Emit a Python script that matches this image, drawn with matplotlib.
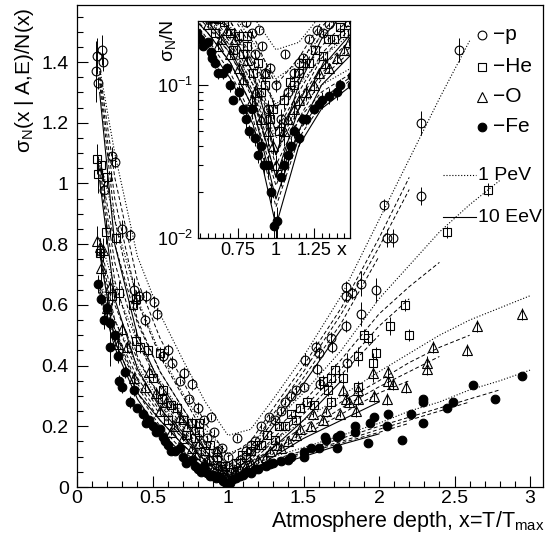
import numpy as np
import matplotlib
matplotlib.use('Agg')
import matplotlib.pyplot as plt
from matplotlib.lines import Line2D
from matplotlib.ticker import MultipleLocator, LogLocator, NullFormatter

plt.rcParams['font.family'] = ['Liberation Sans', 'DejaVu Sans']
plt.rcParams['mathtext.fontset'] = 'custom'
plt.rcParams['mathtext.rm'] = 'Liberation Sans'
plt.rcParams['mathtext.it'] = 'Liberation Sans:italic'
plt.rcParams['mathtext.default'] = 'regular'

n = np.nan

# common depth grid of the fitted curves, x = T/Tmax
x_grid = [0.15, 0.25, 0.4, 0.55, 0.7, 0.85, 1.0, 1.15, 1.3, 1.5, 1.75, 2.0, 2.2, 2.4, 2.6, 2.8, 3.0]

# curves: 1 PeV (dotted), three intermediate energies (dashed), 10 EeV (solid)
p_curves = [
    [1.38, 1.10, 0.76, 0.57, 0.42, 0.28, 0.17, 0.19, 0.29, 0.43, 0.63, 0.88, 1.08, 1.28, 1.47, n, n],
    [1.37, 1.02, 0.68, 0.49, 0.35, 0.21, 0.10, 0.15, 0.26, 0.40, 0.59, 0.82, 1.02, n, n, n, n],
    [1.35, 0.95, 0.61, 0.43, 0.30, 0.17, 0.07, 0.13, 0.24, 0.38, 0.57, 0.79, 0.98, n, n, n, n],
    [1.33, 0.88, 0.55, 0.38, 0.26, 0.14, 0.05, 0.11, 0.22, 0.36, 0.54, 0.76, n, n, n, n, n],
    [1.30, 0.80, 0.50, 0.34, 0.23, 0.12, 0.035, 0.10, 0.20, 0.34, 0.52, n, n, n, n, n, n],
]
he_curves = [
    [1.08, 0.88, 0.62, 0.44, 0.31, 0.19, 0.11, 0.14, 0.21, 0.31, 0.45, 0.62, 0.73, 0.84, 0.93, 1.01, n],
    [1.06, 0.80, 0.54, 0.38, 0.26, 0.15, 0.07, 0.11, 0.18, 0.28, 0.42, 0.57, 0.66, 0.74, n, n, n],
    [1.05, 0.74, 0.48, 0.33, 0.22, 0.12, 0.05, 0.09, 0.16, 0.26, 0.39, 0.53, 0.62, n, n, n, n],
    [1.03, 0.68, 0.43, 0.29, 0.19, 0.10, 0.035, 0.08, 0.15, 0.24, 0.37, 0.50, n, n, n, n, n],
    [1.01, 0.62, 0.39, 0.26, 0.17, 0.085, 0.025, 0.07, 0.13, 0.22, 0.35, n, n, n, n, n, n],
]
o_curves = [
    [0.82, 0.66, 0.48, 0.35, 0.24, 0.14, 0.075, 0.10, 0.15, 0.22, 0.30, 0.38, 0.44, 0.50, 0.55, 0.59, 0.63],
    [0.80, 0.60, 0.42, 0.30, 0.20, 0.11, 0.05, 0.08, 0.13, 0.20, 0.28, 0.35, 0.41, 0.46, 0.50, n, n],
    [0.79, 0.55, 0.38, 0.27, 0.18, 0.09, 0.035, 0.07, 0.12, 0.18, 0.26, 0.33, 0.38, 0.43, n, n, n],
    [0.78, 0.51, 0.34, 0.24, 0.16, 0.08, 0.025, 0.06, 0.11, 0.17, 0.24, 0.31, 0.35, n, n, n, n],
    [0.77, 0.48, 0.31, 0.22, 0.14, 0.07, 0.018, 0.05, 0.10, 0.16, 0.22, 0.28, n, n, n, n, n],
]
fe_curves = [
    [0.68, 0.55, 0.40, 0.28, 0.18, 0.10, 0.045, 0.07, 0.10, 0.13, 0.17, 0.21, 0.25, 0.28, 0.32, 0.35, 0.385],
    [0.67, 0.52, 0.36, 0.25, 0.16, 0.085, 0.03, 0.06, 0.09, 0.12, 0.16, 0.20, 0.23, 0.26, 0.29, 0.32, n],
    [0.66, 0.50, 0.33, 0.22, 0.14, 0.07, 0.022, 0.05, 0.08, 0.115, 0.15, 0.19, 0.22, 0.25, 0.28, n, n],
    [0.65, 0.48, 0.31, 0.20, 0.12, 0.06, 0.016, 0.045, 0.075, 0.11, 0.145, 0.18, 0.21, n, n, n, n],
    [0.64, 0.46, 0.29, 0.18, 0.11, 0.055, 0.012, 0.04, 0.07, 0.10, 0.14, 0.175, n, n, n, n, n],
]

# simulated points
p_x = [0.13, 0.165, 0.17, 0.125, 0.14, 0.23, 0.25, 0.18, 0.30, 0.35, 0.38, 0.41, 0.46, 0.51, 0.53,
       0.57, 0.63, 0.71, 0.76, 0.80, 0.89, 0.91, 1.06, 0.96, 1.00, 0.95, 1.03, 1.08, 1.12, 1.18,
       1.27, 1.31, 1.38, 1.45, 1.50, 1.51, 1.58, 1.60, 1.68, 1.59, 1.69, 1.79, 1.78, 1.88, 1.61,
       1.78, 1.82, 1.78, 1.88, 1.98, 2.03, 2.05, 2.09, 2.28, 2.28, 2.53,
       0.45, 0.60, 0.68, 0.74, 0.84, 0.86, 0.93, 1.15, 1.22, 1.35, 1.42]
p_y = [1.42, 1.44, 1.40, 1.37, 1.33, 1.09, 1.07, 0.98, 0.85, 0.83, 0.65, 0.63, 0.63, 0.61, 0.57,
       0.43, 0.41, 0.375, 0.34, 0.26, 0.23, 0.18, 0.16, 0.13, 0.10, 0.07, 0.06, 0.09, 0.12, 0.15,
       0.23, 0.22, 0.28, 0.32, 0.33, 0.42, 0.46, 0.44, 0.49, 0.39, 0.46, 0.41, 0.53, 0.57, 0.34,
       0.66, 0.64, 0.63, 0.67, 0.65, 0.93, 0.82, 0.82, 1.20, 0.96, 1.44,
       0.55, 0.45, 0.35, 0.29, 0.22, 0.16, 0.12, 0.14, 0.20, 0.25, 0.30]
p_err = [0.06, 0.05, 0.03, 0.10, 0.02, 0.03, 0.02, 0.03, 0.03, 0.02, 0.04, 0.02, 0.02, 0.02, 0.02,
         0.02, 0.02, 0.02, 0.02, 0.02, 0.01, 0.01, 0.01, 0.01, 0.01, 0.01, 0.01, 0.01, 0.01, 0.01,
         0.01, 0.01, 0.01, 0.01, 0.01, 0.02, 0.02, 0.02, 0.02, 0.02, 0.02, 0.03, 0.02, 0.04, 0.02,
         0.02, 0.02, 0.02, 0.04, 0.04, 0.02, 0.03, 0.03, 0.04, 0.03, 0.04,
         0.02, 0.02, 0.01, 0.01, 0.01, 0.01, 0.01, 0.01, 0.01, 0.01, 0.01]

he_x = [0.13, 0.16, 0.14, 0.20, 0.19, 0.26, 0.15, 0.28, 0.23, 0.39, 0.37, 0.39, 0.42, 0.47, 0.55,
        0.57, 0.56, 0.66, 0.76, 0.81, 0.81, 0.88, 0.93, 0.98, 1.02, 1.05, 0.72, 0.60,
        1.09, 1.15, 1.22, 1.31, 1.38, 1.45, 1.52, 1.57, 1.63, 1.66, 1.68, 1.68, 1.71, 1.76, 1.86,
        1.86, 1.90, 1.93, 1.96, 1.98, 2.07, 2.17, 2.20, 2.45, 2.72,
        0.50, 0.62, 0.70, 0.78, 0.85, 0.90, 0.96, 1.12, 1.18, 1.26, 1.34, 1.42, 1.48]
he_y = [1.08, 1.06, 1.03, 1.02, 0.84, 0.82, 0.77, 0.64, 0.63, 0.62, 0.60, 0.48, 0.46, 0.45, 0.44,
        0.32, 0.29, 0.26, 0.21, 0.21, 0.18, 0.14, 0.10, 0.07, 0.05, 0.08, 0.17, 0.22,
        0.105, 0.12, 0.14, 0.155, 0.20, 0.22, 0.28, 0.27, 0.35, 0.32, 0.28, 0.36, 0.385, 0.36, 0.43,
        0.33, 0.50, 0.49, 0.41, 0.44, 0.53, 0.60, 0.50, 0.84, 0.98,
        0.36, 0.27, 0.22, 0.16, 0.12, 0.09, 0.06, 0.10, 0.14, 0.17, 0.20, 0.24, 0.26]
he_err = [0.05, 0.03, 0.06, 0.03, 0.04, 0.02, 0.02, 0.04, 0.03, 0.03, 0.02, 0.04, 0.02, 0.02, 0.02,
          0.02, 0.02, 0.02, 0.02, 0.01, 0.01, 0.01, 0.01, 0.01, 0.01, 0.01, 0.01, 0.01,
          0.01, 0.01, 0.01, 0.01, 0.01, 0.01, 0.01, 0.01, 0.02, 0.02, 0.02, 0.02, 0.02, 0.02, 0.03,
          0.02, 0.02, 0.02, 0.03, 0.02, 0.03, 0.02, 0.02, 0.02, 0.02,
          0.01, 0.01, 0.01, 0.01, 0.01, 0.01, 0.01, 0.01, 0.01, 0.01, 0.01, 0.01, 0.01]

o_x = [0.13, 0.15, 0.17, 0.16, 0.20, 0.22, 0.27, 0.33, 0.30, 0.38, 0.45, 0.52, 0.59, 0.48, 0.68,
       0.73, 0.81, 0.93, 0.62, 0.76, 0.86, 0.95, 1.00, 1.05,
       1.12, 1.20, 1.28, 1.35, 1.45, 1.55, 1.56, 1.63, 1.65, 1.74, 1.76, 1.78, 1.80, 1.85, 1.86,
       1.86, 1.96, 1.97, 2.05, 2.06, 2.06, 2.09, 2.18, 2.32, 2.32, 2.36, 2.58, 2.65, 2.95,
       0.55, 0.64, 0.70, 0.78, 0.84, 0.90, 0.98, 1.08, 1.15, 1.25, 1.32, 1.40, 1.48]
o_y = [0.81, 0.79, 0.78, 0.72, 0.59, 0.66, 0.47, 0.46, 0.52, 0.36, 0.33, 0.31, 0.28, 0.38, 0.23,
       0.20, 0.145, 0.12, 0.18, 0.13, 0.09, 0.05, 0.03, 0.05,
       0.07, 0.09, 0.12, 0.13, 0.17, 0.20, 0.24, 0.22, 0.25, 0.24, 0.32, 0.29, 0.28, 0.25, 0.32,
       0.29, 0.375, 0.30, 0.29, 0.38, 0.35, 0.34, 0.33, 0.41, 0.39, 0.46, 0.45, 0.53, 0.57,
       0.25, 0.20, 0.16, 0.11, 0.08, 0.06, 0.04, 0.06, 0.08, 0.10, 0.14, 0.15, 0.19]
o_err = [0.05, 0.03, 0.04, 0.06, 0.03, 0.03, 0.02, 0.02, 0.02, 0.02, 0.02, 0.02, 0.02, 0.02, 0.01,
         0.01, 0.01, 0.01, 0.01, 0.01, 0.01, 0.01, 0.005, 0.01,
         0.01, 0.01, 0.01, 0.01, 0.01, 0.01, 0.01, 0.01, 0.01, 0.01, 0.02, 0.02, 0.02, 0.02, 0.02,
         0.02, 0.03, 0.02, 0.02, 0.02, 0.02, 0.02, 0.02, 0.02, 0.02, 0.02, 0.02, 0.02, 0.02,
         0.01, 0.01, 0.01, 0.01, 0.01, 0.005, 0.005, 0.005, 0.01, 0.01, 0.01, 0.01, 0.01]

fe_x = [0.14, 0.16, 0.20, 0.22, 0.18, 0.22, 0.25, 0.27, 0.28, 0.32, 0.38, 0.44, 0.50, 0.57, 0.60,
        0.65, 0.70, 0.76, 0.80, 0.86, 0.90, 0.95, 0.99, 1.01, 1.05, 0.40, 0.48, 0.55, 0.68, 0.84,
        1.10, 1.20, 1.30, 1.40, 1.50, 1.50, 1.55, 1.60, 1.64, 1.65, 1.72, 1.74, 1.72, 1.84, 1.84,
        1.93, 1.94, 1.97, 2.05, 2.06, 2.15, 2.21, 2.29, 2.29, 2.29, 2.45, 2.49, 2.62, 2.77, 2.95,
        0.72, 0.78, 0.82, 0.88, 0.92, 0.97, 1.03, 1.08, 1.12, 1.15, 1.18, 1.25, 1.28, 1.35, 1.42,
        0.62, 0.58, 0.52, 0.46, 0.35, 0.30]
fe_y = [0.67, 0.62, 0.59, 0.54, 0.55, 0.46, 0.50, 0.43, 0.35, 0.38, 0.32, 0.24, 0.20, 0.165, 0.14,
        0.12, 0.10, 0.09, 0.06, 0.045, 0.04, 0.03, 0.012, 0.013, 0.03, 0.26, 0.22, 0.19, 0.13, 0.07,
        0.04, 0.06, 0.08, 0.09, 0.115, 0.10, 0.13, 0.13, 0.165, 0.155, 0.13, 0.17, 0.165, 0.20, 0.18,
        0.145, 0.21, 0.23, 0.20, 0.24, 0.155, 0.24, 0.29, 0.28, 0.21, 0.26, 0.28, 0.335, 0.29, 0.365,
        0.08, 0.07, 0.05, 0.035, 0.03, 0.02, 0.025, 0.035, 0.05, 0.045, 0.06, 0.07, 0.075, 0.085, 0.10,
        0.12, 0.15, 0.18, 0.21, 0.28, 0.33]
fe_err = [0.03, 0.02, 0.02, 0.02, 0.03, 0.06, 0.02, 0.02, 0.02, 0.02, 0.02, 0.02, 0.01, 0.01, 0.01,
          0.01, 0.01, 0.01, 0.01, 0.005, 0.005, 0.005, 0.003, 0.003, 0.005, 0.01, 0.01, 0.01, 0.01, 0.01,
          0.005, 0.005, 0.01, 0.01, 0.01, 0.01, 0.01, 0.01, 0.01, 0.01, 0.01, 0.01, 0.01, 0.01, 0.01,
          0.01, 0.01, 0.01, 0.01, 0.01, 0.01, 0.01, 0.01, 0.01, 0.01, 0.01, 0.01, 0.01, 0.01, 0.01,
          0.005, 0.005, 0.005, 0.004, 0.004, 0.003, 0.003, 0.004, 0.005, 0.005, 0.005, 0.005, 0.005, 0.01, 0.01,
          0.01, 0.01, 0.01, 0.01, 0.02, 0.02]

nuclei = ['p', 'He', 'O', 'Fe']
energy_labels = ['1 PeV', '10 EeV']

W, H = 546, 548
fig = plt.figure(figsize=(W / 100, H / 100), dpi=100)


def fx(px):
    return px / W


def fy(py):
    return 1 - py / H


ax = fig.add_axes([fx(77), fy(487), fx(543) - fx(77), fy(5) - fy(487)])
ins = fig.add_axes([fx(198), fy(238), fx(350) - fx(198), fy(21) - fy(238)])
ins.set_zorder(5)

line_styles = [(':', 0.8), ((0, (4, 2.5)), 0.7), ((0, (4, 2.5)), 0.7), ((0, (4, 2.5)), 0.7), ('-', 0.8)]
markers = [dict(marker='o', mfc='none'), dict(marker='s', mfc='none'),
           dict(marker='^', mfc='none'), dict(marker='o', mfc='k')]
curve_sets = [p_curves, he_curves, o_curves, fe_curves]
point_sets = [(p_x, p_y, p_err), (he_x, he_y, he_err), (o_x, o_y, o_err), (fe_x, fe_y, fe_err)]
msizes = [6.3, 5.8, 7.2, 6.2]

xg = np.array(x_grid)
for a in (ax, ins):
    for curves in curve_sets:
        for c, (ls, lw) in zip(curves, line_styles):
            a.plot(xg, np.array(c, dtype=float), color='k', linestyle=ls, lw=lw)
    for (xs, ys, es), mk, ms in zip(point_sets, markers, msizes):
        a.errorbar(xs, ys, yerr=es, fmt='none', ecolor='k', elinewidth=0.7)
        a.plot(xs, ys, linestyle='none', color='k', ms=ms, mew=0.8, **mk)

# main axes
ax.set_xlim(0, 3.086)
ax.set_ylim(0, 1.588)
ax.xaxis.set_major_locator(MultipleLocator(0.5))
ax.xaxis.set_minor_locator(MultipleLocator(0.1))
ax.yaxis.set_major_locator(MultipleLocator(0.2))
ax.yaxis.set_minor_locator(MultipleLocator(0.05))
ax.xaxis.set_major_formatter(plt.FuncFormatter(lambda v, p: f'{v:g}'))
ax.yaxis.set_major_formatter(plt.FuncFormatter(lambda v, p: f'{v:g}'))
ax.tick_params(which='both', direction='in', labelsize=14, width=0.8)
ax.tick_params(which='major', length=8)
ax.tick_params(which='minor', length=4)
ax.tick_params(axis='y', pad=6)
ax.tick_params(axis='x', pad=2)
for s in ax.spines.values():
    s.set_linewidth(0.9)

fig.text(fx(545), fy(522), 'Atmosphere depth, x=T/T$_{max}$', ha='right', va='center', fontsize=15.5)
fig.text(fx(25), fy(8), r'$\sigma_N$(x | A,E)/N(x)', rotation=90, ha='center', va='top', fontsize=15)

# inset, log scale
ins.set_xlim(0.487, 1.487)
ins.set_yscale('log')
ins.set_ylim(0.01, 0.262)
ins.xaxis.set_major_locator(plt.FixedLocator([0.75, 1.0, 1.25]))
ins.xaxis.set_minor_locator(MultipleLocator(0.05))
ins.xaxis.set_major_formatter(plt.FuncFormatter(lambda v, p: f'{v:g}'))
ins.yaxis.set_major_locator(LogLocator(base=10))
ins.yaxis.set_minor_locator(LogLocator(base=10, subs=np.arange(2, 10)))
ins.yaxis.set_minor_formatter(NullFormatter())
ins.tick_params(which='both', direction='in', labelsize=13, width=0.8)
ins.tick_params(which='major', length=7)
ins.tick_params(which='minor', length=3.5)
ins.tick_params(axis='x', pad=3)
for s in ins.spines.values():
    s.set_linewidth(0.9)
fig.text(fx(342), fy(250), 'x', ha='center', va='center', fontsize=14)
fig.text(fx(168), fy(20), r'$\sigma_N$/N', rotation=90, ha='center', va='top', fontsize=14)

# legend drawn by hand
leg_y = [35, 67, 97, 127]
for name, mk, ms, py in zip(nuclei, markers, msizes, leg_y):
    fig.add_artist(Line2D([fx(482)], [fy(py)], linestyle='none', color='k', ms=ms, mew=0.8, **mk))
    fig.text(fx(493), fy(py), '\u2212' + name, ha='left', va='center', fontsize=15)

for (ls, lw), lab, py in zip([line_styles[0], line_styles[-1]], energy_labels, [175, 217]):
    fig.add_artist(Line2D([fx(443), fx(476)], [fy(py), fy(py)], color='k', linestyle=ls, lw=lw))
    fig.text(fx(478), fy(py), lab, ha='left', va='center', fontsize=14)

fig.savefig('out.png', dpi=100)
